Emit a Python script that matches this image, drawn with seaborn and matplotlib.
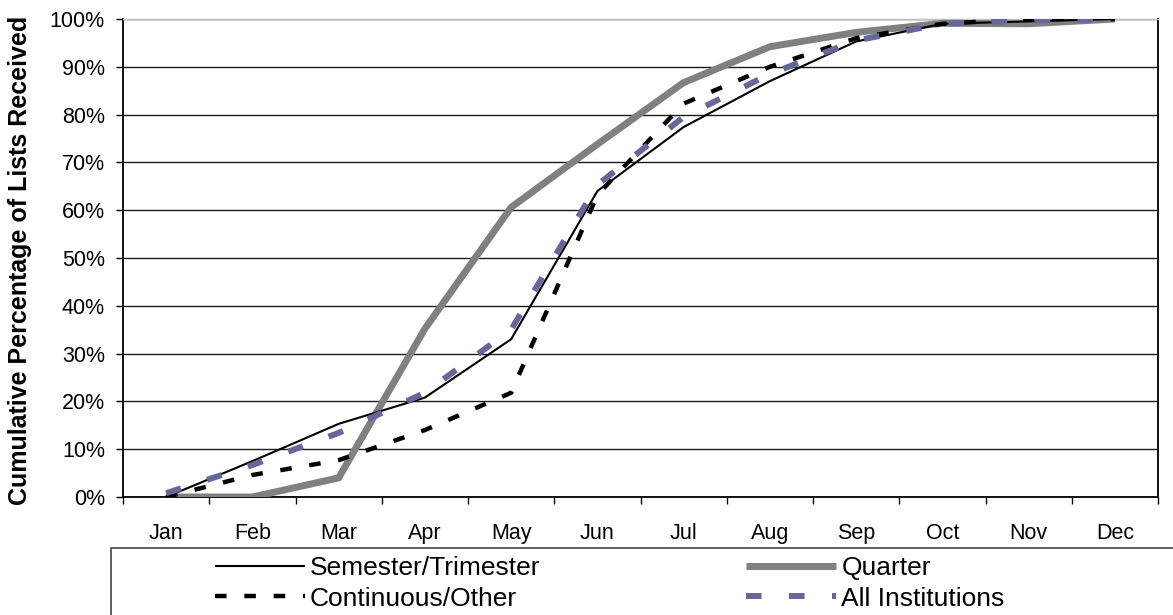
import matplotlib
matplotlib.use("Agg")
import matplotlib.pyplot as plt
from matplotlib.patches import Rectangle
from matplotlib.ticker import FixedLocator, PercentFormatter
import seaborn as sns
import pandas as pd

months = ["Jan", "Feb", "Mar", "Apr", "May", "Jun",
          "Jul", "Aug", "Sep", "Oct", "Nov", "Dec"]

semester = [0.0, 7.5, 15.3, 20.8, 33.0, 64.0, 77.4, 87.0, 95.3, 99.0, 99.5, 100.0]
quarter = [0.0, 0.0, 4.0, 35.2, 60.6, 73.8, 86.7, 94.2, 97.2, 99.1, 99.0, 100.0]
continuous = [0.0, 4.6, 7.7, 14.0, 21.8, 63.2, 82.3, 90.0, 96.0, 99.0, 100.0, 100.0]
all_inst = [0.8, 6.7, 13.4, 21.8, 35.0, 65.3, 79.5, 88.5, 95.5, 99.0, 99.7, 100.0]

series = {
    "Semester/Trimester": semester,
    "Quarter": quarter,
    "Continuous/Other": continuous,
    "All Institutions": all_inst,
}

df = pd.DataFrame({"month": list(range(len(months)))})
for name, vals in series.items():
    df[name] = vals

sns.set_theme(style="white")
plt.rcParams["font.family"] = ["Liberation Sans", "DejaVu Sans"]
plt.rcParams["text.color"] = "black"
plt.rcParams["axes.labelcolor"] = "black"
plt.rcParams["xtick.color"] = "black"
plt.rcParams["ytick.color"] = "black"

fig = plt.figure(figsize=(11.73, 6.15), dpi=100)
ax = fig.add_axes([123 / 1173, 1 - 497 / 615, (1158 - 123) / 1173, (497 - 19) / 615])

styles = {
    "Quarter": dict(color="#808080", lw=5.0, ls="-", zorder=3),
    "Semester/Trimester": dict(color="black", lw=1.5, ls="-", zorder=4),
    "Continuous/Other": dict(color="black", lw=3.2, ls=(0, (2.6, 4.0)), zorder=5),
    "All Institutions": dict(color="#666699", lw=4.3, ls=(0, (2.6, 4.6)), zorder=6),
}

handles = {}
for name in ["Quarter", "Semester/Trimester", "Continuous/Other", "All Institutions"]:
    st = styles[name]
    sns.lineplot(data=df, x="month", y=name, ax=ax, color=st["color"],
                 linewidth=st["lw"], linestyle=st["ls"], zorder=st["zorder"],
                 legend=False)
    line = ax.get_lines()[-1]
    line.set_dash_capstyle("butt")
    line.set_solid_capstyle("butt")
    handles[name] = line

ax.set_xlim(-0.5, len(months) - 0.5)
ax.set_ylim(0, 100)
ax.set_xticks(range(len(months)))
ax.set_xticklabels(months)
ax.xaxis.set_minor_locator(FixedLocator([i - 0.5 for i in range(len(months) + 1)]))
ax.tick_params(axis="x", which="major", length=0, pad=19, labelsize=15.5, labelcolor="black")
ax.tick_params(axis="x", which="minor", length=5, width=1, color="black", direction="out")
ax.set_yticks(range(0, 101, 10))
ax.yaxis.set_major_formatter(PercentFormatter(decimals=0))
ax.tick_params(axis="y", length=5, width=1, color="black", direction="out", pad=8,
               labelsize=15.5, labelcolor="black")
ax.tick_params(bottom=True, left=True)
ax.xaxis.set_tick_params(which="minor", bottom=True)

ax.grid(axis="y", color="#1a1a1a", linewidth=1)
ax.set_axisbelow(True)
for side in ["left", "bottom", "right"]:
    ax.spines[side].set_visible(True)
    ax.spines[side].set_color("black")
    ax.spines[side].set_linewidth(1.3)
ax.spines["top"].set_visible(True)
ax.spines["top"].set_color("#bfbfbf")
ax.spines["top"].set_linewidth(1)

ax.set_xlabel("")
ax.set_ylabel("Cumulative Percentage of Lists Received", fontsize=18,
              fontweight="bold", color="black")
ax.yaxis.set_label_coords(-0.088, 0.494)

# legend frame running off the lower right corner
fig.patches.append(Rectangle((111 / 1173, -0.05), 1.2, (1 - 548 / 615) + 0.05,
                             transform=fig.transFigure, fill=False,
                             edgecolor="#444444", linewidth=1.2))

order = ["Semester/Trimester", "Continuous/Other", "Quarter", "All Institutions"]
leg = fig.legend([handles[n] for n in order], order, loc="upper left",
                 bbox_to_anchor=(215 / 1173, 1 - 556 / 615), ncol=2, frameon=False,
                 fontsize=19, handlelength=3.4, handletextpad=0.2,
                 columnspacing=7.8, labelspacing=0.25, borderpad=0, borderaxespad=0)
for t in leg.get_texts():
    t.set_color("black")

fig.savefig("out.png", dpi=100)
